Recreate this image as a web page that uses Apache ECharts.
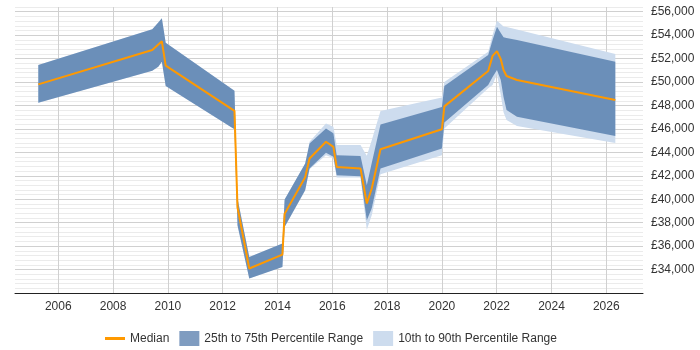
<!DOCTYPE html>
<html>
<head>
<meta charset="utf-8">
<script src="https://cdn.jsdelivr.net/npm/echarts@6/dist/echarts.min.js"></script>
<style>
  html, body { margin: 0; padding: 0; background: #fff; }
  #chart { width: 700px; height: 350px; }
</style>
</head>
<body>
<div id="chart"></div>
<script>
// x positions (decimal years)
const years = [2005.27, 2009.43, 2009.65, 2009.78, 2009.92, 2012.43, 2012.54, 2012.97, 2014.18, 2014.26,
  2015.01, 2015.17, 2015.77, 2016.04, 2016.16, 2017.03, 2017.26, 2017.44, 2017.76, 2020.0,
  2020.09, 2021.69, 2021.85, 2022.01, 2022.15, 2022.25, 2022.36, 2022.74, 2026.33];

const median = [49800, 52730, 53200, 53470, 51400, 47545, 39320, 34090, 35280, 38750,
  41880, 43480, 44900, 44470, 42760, 42630, 39640, 40920, 44260, 45970,
  47920, 50940, 52230, 52640, 51940, 51020, 50510, 50170, 48460];

const p75 = [51450, 54500, 55080, 55440, 53350, 49250, 40090, 35080, 36220, 39980,
  43050, 44760, 46040, 45620, 43760, 43680, 41200, 43100, 46380, 47860,
  49650, 52300, 53580, 54720, 54180, 53810, 53750, 53580, 51730];

const p25 = [48230, 50960, 51300, 51730, 49650, 45960, 37780, 33230, 34220, 37640,
  40770, 42630, 43960, 43620, 42050, 41970, 38210, 39240, 42630, 44330,
  46540, 49740, 50420, 51020, 50170, 48720, 47610, 47030, 45390];

const p90 = [51450, 54500, 55080, 55440, 53350, 49250, 40090, 35080, 36220, 39980,
  43050, 44900, 46470, 46180, 44620, 44620, 43700, 45040, 47520, 48670,
  50000, 52580, 54010, 55230, 54950, 54740, 54690, 54480, 52400];

const p10 = [48230, 50960, 51300, 51730, 49650, 45960, 37780, 33230, 34220, 37640,
  40770, 42550, 43760, 43510, 41860, 41860, 37400, 38640, 42140, 43760,
  46040, 49460, 49740, 50680, 48890, 47430, 46750, 46240, 44790];

const xLabels = [2006, 2008, 2010, 2012, 2014, 2016, 2018, 2020, 2022, 2024, 2026];

const LIGHT = '#cddcee';
const DARK = 'rgba(65,110,162,0.7)';
const ORANGE = '#ff9900';

function money(v) {
  return '£' + String(v).replace(/\B(?=(\d{3})+(?!\d))/g, ',');
}

// one polygon per band: upper edge left->right, lower edge right->left
function band(name, lo, hi, fill) {
  return {
    type: 'custom',
    name: name,
    silent: true,
    clip: true,
    encode: { x: 0, y: [1, 2] },
    data: years.map((y, i) => [y, lo[i], hi[i]]),
    renderItem: function (params, api) {
      if (params.dataIndex !== 0) return null;
      const upper = years.map((y, i) => api.coord([y, hi[i]]));
      const lower = years.map((y, i) => api.coord([y, lo[i]])).reverse();
      return {
        type: 'polygon',
        shape: { points: upper.concat(lower) },
        style: { fill: fill }
      };
    }
  };
}

const chart = echarts.init(document.getElementById('chart'));

chart.setOption({
  animation: false,
  textStyle: { fontFamily: 'Liberation Sans, Arial, sans-serif' },
  grid: { left: 15, right: 57, top: 7, bottom: 57, outerBoundsMode: 'none' },
  xAxis: {
    type: 'value',
    min: 2004.42,
    max: 2027.34,
    splitNumber: 11,
    axisLine: { lineStyle: { color: '#222', width: 1 } },
    axisTick: { show: false },
    axisLabel: {
      color: '#333', fontSize: 12, margin: 8,
      showMinLabel: false, showMaxLabel: false,
      formatter: v => xLabels.includes(v) ? String(v) : ''
    },
    splitLine: { show: true, showMinLine: false, showMaxLine: false, lineStyle: { color: '#d0d0d0' } }
  },
  yAxis: {
    type: 'value',
    position: 'right',
    min: 32000,
    max: 56400,
    interval: 400,
    axisLine: { show: false },
    axisTick: { show: false },
    axisLabel: {
      color: '#333', fontSize: 12, margin: 8,
      formatter: v => (v % 2000 === 0 && v > 32000 && v <= 56000) ? money(v) : ''
    },
    splitLine: {
      lineStyle: { color: ['#d0d0d0', '#ebebeb', '#ebebeb', '#ebebeb', '#ebebeb'] }
    }
  },
  legend: {
    left: 100,
    top: 326,
    itemGap: 10,
    itemWidth: 20,
    itemHeight: 15,
    textStyle: { color: '#333', fontSize: 12 },
    data: [
      { name: 'Median', icon: 'path://M0,0H20V3H0Z', itemStyle: { color: ORANGE } },
      { name: '25th to 75th Percentile Range', icon: 'rect', itemStyle: { color: '#7f9cc0' } },
      { name: '10th to 90th Percentile Range', icon: 'rect', itemStyle: { color: LIGHT } }
    ]
  },
  series: [
    band('10th to 90th Percentile Range', p10, p90, LIGHT),
    band('25th to 75th Percentile Range', p25, p75, DARK),
    {
      name: 'Median', type: 'line', symbol: 'none',
      data: years.map((y, i) => [y, median[i]]),
      itemStyle: { color: ORANGE },
      lineStyle: { color: ORANGE, width: 2 }
    }
  ]
});
</script>
</body>
</html>
